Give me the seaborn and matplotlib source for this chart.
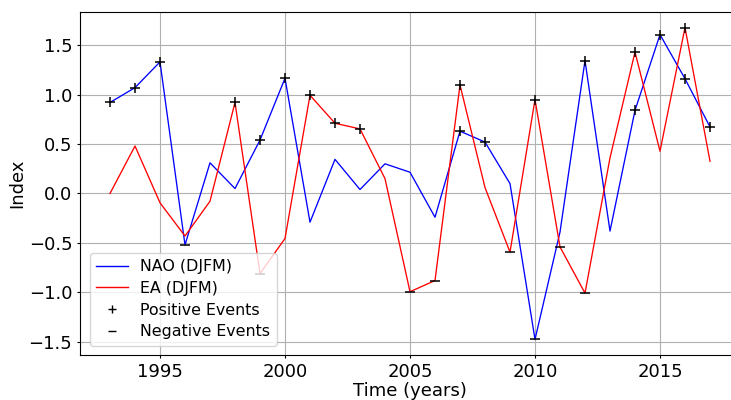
import matplotlib
matplotlib.use("Agg")
import matplotlib.pyplot as plt
from matplotlib.lines import Line2D
import numpy as np
import pandas as pd
import seaborn as sns

# Winter (DJFM) teleconnection indices
years = list(range(1993, 2018))
nao = [0.92, 1.07, 1.33, -0.52, 0.31, 0.05, 0.54, 1.165, -0.29, 0.345,
       0.04, 0.30, 0.215, -0.24, 0.63, 0.52, 0.10, -1.475, -0.39, 1.343,
       -0.38, 0.84, 1.606, 1.16, 0.673]
ea = [0.0, 0.48, -0.094, -0.43, -0.078, 0.92, -0.81, -0.455, 0.993, 0.71,
      0.653, 0.15, -0.993, -0.88, 1.098, 0.06, -0.593, 0.95, -0.54, -1.007,
      0.36, 1.43, 0.427, 1.677, 0.326]
event_threshold = 0.5

df = pd.DataFrame({"year": years, "NAO": nao, "EA": ea})

plt.rcParams["font.family"] = ["DejaVu Sans"]
fig = plt.figure(figsize=(7.31, 4.0), dpi=100)
ax = fig.add_axes([80 / 731, 45 / 400, 660 / 731, 343 / 400])

sns.lineplot(data=df, x="year", y="NAO", color="blue", lw=0.95, ax=ax,
             label="NAO (DJFM)", legend=False)
sns.lineplot(data=df, x="year", y="EA", color="red", lw=0.95, ax=ax,
             label="EA (DJFM)", legend=False)

# Mark strong positive / negative winters for both indices
for col in ["NAO", "EA"]:
    pos = df[df[col] > event_threshold]
    neg = df[df[col] < -event_threshold]
    sns.scatterplot(x=pos["year"], y=pos[col], marker="+", color="black",
                    s=50, linewidth=1.1, ax=ax, legend=False, zorder=3)
    sns.scatterplot(x=neg["year"], y=neg[col], marker="_", color="black",
                    s=50, linewidth=1.1, ax=ax, legend=False, zorder=3)

ax.grid(True, color="#b0b0b0", lw=0.8)
ax.set_axisbelow(True)
ax.set_xticks([1995, 2000, 2005, 2010, 2015])
ax.set_yticks([-1.5, -1.0, -0.5, 0.0, 0.5, 1.0, 1.5])
ax.tick_params(labelsize=13, length=2.5, pad=3)
ax.set_xlabel("Time (years)", fontsize=13, labelpad=1)
ax.set_ylabel("Index", fontsize=13, labelpad=2)

handles = [
    Line2D([], [], color="blue", lw=1.0, label="NAO (DJFM)"),
    Line2D([], [], color="red", lw=1.0, label="EA (DJFM)"),
    Line2D([], [], color="black", ls="none", marker="+", markersize=6,
           label="Positive Events"),
    Line2D([], [], color="black", ls="none", marker="_", markersize=6,
           label="Negative Events"),
]
ax.legend(handles=handles, loc="lower left", fontsize=11.4,
          labelspacing=0.42, borderaxespad=0.6)

fig.savefig("out.png", dpi=100)
